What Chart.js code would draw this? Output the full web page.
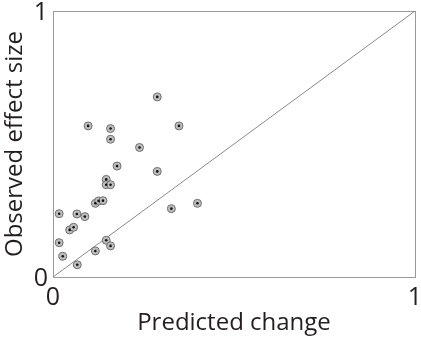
<!DOCTYPE html>
<html>
<head>
<meta charset="utf-8">
<script src="https://cdn.jsdelivr.net/npm/chart.js@4"></script>
<style>
  html, body { margin: 0; padding: 0; background: #fff; }
  #wrap { width: 421px; height: 341px; }
</style>
</head>
<body>
<div id="wrap"><canvas id="chart"></canvas></div>
<script>
// 数据：预测变化 vs 观察效应量
const predicted = [0.288, 0.097, 0.159, 0.348, 0.159, 0.239, 0.177, 0.288, 0.147, 0.147,
                   0.159, 0.117, 0.126, 0.138, 0.017, 0.066, 0.088, 0.399, 0.327, 0.046,
                   0.057, 0.017, 0.147, 0.159, 0.117, 0.027, 0.067];
const observed  = [0.677, 0.568, 0.558, 0.568, 0.518, 0.487, 0.417, 0.397, 0.367, 0.347,
                   0.347, 0.277, 0.286, 0.287, 0.238, 0.237, 0.227, 0.277, 0.257, 0.177,
                   0.187, 0.129, 0.138, 0.117, 0.098, 0.078, 0.046];
const diagonal = [0, 1];
const tickValues = [0, 1];

const points = predicted.map(function(x, i) { return { x: x, y: observed[i] }; });
const identity = diagonal.map(function(v) { return { x: v, y: v }; });

// 固定坐标轴尺寸，去掉自动留白
function fixWidth(w) {
    return function(scale) {
        scale.width = w;
        scale.paddingTop = 0;
        scale.paddingBottom = 0;
    };
}
function fixHeight(h) {
    return function(scale) {
        scale.height = h;
        scale.paddingLeft = 0;
        scale.paddingRight = 0;
    };
}

new Chart(document.getElementById('chart'), {
    type: 'scatter',
    data: {
        // 数组中靠前的数据集画在上层
        datasets: [{
            data: points,
            pointRadius: 1.3,
            pointBackgroundColor: '#111',
            pointBorderColor: '#111',
            pointBorderWidth: 0
        }, {
            data: points,
            pointRadius: 4,
            pointBackgroundColor: '#bdbdbd',
            pointBorderColor: '#707070',
            pointBorderWidth: 1
        }, {
            type: 'line',
            data: identity,
            borderColor: '#8a8a8a',
            borderWidth: 1,
            pointRadius: 0,
            fill: false
        }]
    },
    options: {
        responsive: true,
        maintainAspectRatio: false,
        animation: false,
        layout: { padding: { top: 11, right: 6, bottom: 0, left: 0 } },
        plugins: { legend: { display: false }, tooltip: { enabled: false } },
        scales: {
            x: {
                type: 'linear',
                min: 0, max: 1,
                afterBuildTicks: function(scale) { scale.ticks = tickValues.map(function(v) { return { value: v }; }); },
                afterFit: fixHeight(64),
                grid: { display: false, drawTicks: false },
                border: { display: true, color: '#9a9a9a', width: 1 },
                ticks: { padding: 6, color: '#231f20', font: { family: 'Open Sans', size: 25 }, maxRotation: 0 },
                title: {
                    display: true, text: 'Predicted change', color: '#231f20',
                    font: { family: 'Open Sans', size: 24 }, padding: { top: 0, bottom: 3 }
                }
            },
            y: {
                type: 'linear',
                min: 0, max: 1,
                afterBuildTicks: function(scale) { scale.ticks = tickValues.map(function(v) { return { value: v }; }); },
                afterFit: fixWidth(53),
                grid: { display: false, drawTicks: false },
                border: { display: true, color: '#9a9a9a', width: 1 },
                ticks: { padding: 5, labelOffset: 2, color: '#231f20', font: { family: 'Open Sans', size: 25 } },
                title: {
                    display: true, text: 'Observed effect size', color: '#231f20',
                    font: { family: 'Open Sans', size: 24 }, padding: { top: 1, bottom: 0 }
                }
            },
            x2: {
                type: 'linear', position: 'top', display: true,
                afterFit: function(scale) { scale.height = 0; scale.paddingLeft = 0; scale.paddingRight = 0; },
                grid: { display: false, drawTicks: false },
                border: { display: true, color: '#9a9a9a', width: 1 },
                ticks: { display: false }
            },
            y2: {
                type: 'linear', position: 'right', display: true,
                afterFit: function(scale) { scale.width = 0; scale.paddingTop = 0; scale.paddingBottom = 0; },
                grid: { display: false, drawTicks: false },
                border: { display: true, color: '#9a9a9a', width: 1 },
                ticks: { display: false }
            }
        }
    }
});
</script>
</body>
</html>
